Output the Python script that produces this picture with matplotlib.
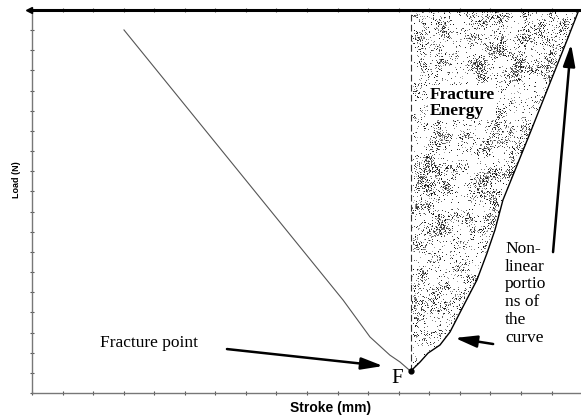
import numpy as np
import matplotlib
matplotlib.use("Agg")
import matplotlib.pyplot as plt
from matplotlib.patches import Polygon

# load-stroke curve, descending branch up to the fracture point
stroke_down = [3.01, 10.18, 11.06, 11.71, 12.04, 12.39]
load_down = [18.01, 4.61, 2.78, 1.88, 1.54, 1.08]

# rising branch after fracture
stroke_up = [12.39, 12.70, 12.96, 13.35, 13.68, 14.10, 14.56, 14.89,
             15.15, 15.41, 16.30, 16.95, 17.51, 17.87]
load_up = [1.08, 1.54, 1.98, 2.38, 3.03, 4.27, 5.61, 6.94,
           8.09, 9.57, 12.90, 15.38, 17.51, 18.90]

fracture = (12.39, 1.08)
x_ticks = np.arange(0, 18)
y_ticks = np.arange(0, 20)
x_max = 17.965
y_max = 19

serif = "Liberation Serif"
sans = "Liberation Sans"

fig = plt.figure(figsize=(5.81, 4.16), dpi=100)
ax = fig.add_axes([32 / 581, 23 / 416, 549 / 581, 383 / 416])
ax.set_xlim(0, x_max)
ax.set_ylim(0, y_max)

for side in ["left", "bottom"]:
    ax.spines[side].set_color("#777777")
    ax.spines[side].set_linewidth(1.0)
ax.spines["right"].set_visible(False)
ax.spines["top"].set_color("black")
ax.spines["top"].set_linewidth(2.2)
ax.spines["top"].set_capstyle("butt")

ax.set_xticks(x_ticks)
ax.set_yticks(y_ticks)
ax.tick_params(direction="inout", length=3.5, width=0.8, color="#555555",
               top=True, labelbottom=False, labelleft=False)

# arrow head on the left end of the top line
ax.plot([-0.1], [y_max], marker="<", color="black", markersize=4,
        clip_on=False, zorder=5)

# stippled fracture energy region
poly_x = [fracture[0]] + stroke_up + [stroke_up[-1], fracture[0]]
poly_y = [fracture[1]] + load_up + [y_max, y_max]
region = Polygon(np.column_stack([poly_x, poly_y]), closed=True,
                 facecolor="none", edgecolor="none")
ax.add_patch(region)

rng = np.random.default_rng(11)
H, W = 362, 172
cell = 8
coarse = rng.random((H // cell + 2, W // cell + 2))
field = np.kron(coarse, np.ones((cell, cell)))[:H, :W]
k = np.ones(7) / 7
for _ in range(2):
    field = np.apply_along_axis(lambda r: np.convolve(r, k, mode="same"), 1, field)
    field = np.apply_along_axis(lambda c: np.convolve(c, k, mode="same"), 0, field)
field = (field - field.min()) / (field.max() - field.min())
prob = 0.03 + 0.65 * field ** 2.8
dots = rng.random((H, W)) < prob
shade = rng.uniform(0.05, 0.7, (H, W))
img = np.ones((H, W, 4))
img[..., 0] = img[..., 1] = img[..., 2] = shade
img[..., 3] = dots * 1.0
im = ax.imshow(img, extent=[fracture[0], stroke_up[-1] + 0.1, fracture[1], y_max],
               origin="lower", interpolation="nearest", aspect="auto", zorder=1)
im.set_clip_path(region)

ax.plot(stroke_down, load_down, color="#555555", lw=0.8, zorder=3)
ax.plot(stroke_up, load_up, color="black", lw=1.0, zorder=3)
ax.plot([fracture[0], fracture[0]], [fracture[1], y_max], color="#333333",
        lw=0.8, dashes=(6, 3), zorder=3)
ax.plot(*fracture, "o", color="black", markersize=3.5, zorder=4)

ax.text(13.0, 15.2, "Fracture\nEnergy", family=serif, weight="bold",
        fontsize=12.5, linespacing=1.0, ha="left", va="top", zorder=4,
        bbox=dict(facecolor="white", edgecolor="none", pad=1))
ax.text(2.23, 2.28, "Fracture point", family=serif, fontsize=12.5,
        ha="left", va="baseline")
ax.text(11.75, 0.50, "F", family=serif, fontsize=15, ha="left", va="baseline")
ax.text(15.48, 7.55, "Non-\nlinear\nportio\nns of\nthe\ncurve", family=serif,
        fontsize=12.5, linespacing=1.15, ha="left", va="top")

arrow = dict(arrowstyle="-|>,head_length=1.1,head_width=0.3",
             mutation_scale=12, lw=1.8, color="black", shrinkA=0, shrinkB=0)
ax.annotate("", xy=(11.49, 1.34), xytext=(6.38, 2.18), arrowprops=arrow)
ax.annotate("", xy=(13.84, 2.73), xytext=(15.09, 2.43), arrowprops=arrow)
ax.annotate("", xy=(17.64, 17.31), xytext=(17.05, 6.99), arrowprops=arrow)

fig.text(331 / 581, 1 - 408 / 416, "Stroke (mm)", family=sans, weight="bold",
         fontsize=10, ha="center", va="center")
fig.text(16.5 / 581, 1 - 180 / 416, "Load (N)", family=sans, weight="bold",
         fontsize=6.5, rotation=90, ha="center", va="center")

fig.savefig("out.png", dpi=100)
